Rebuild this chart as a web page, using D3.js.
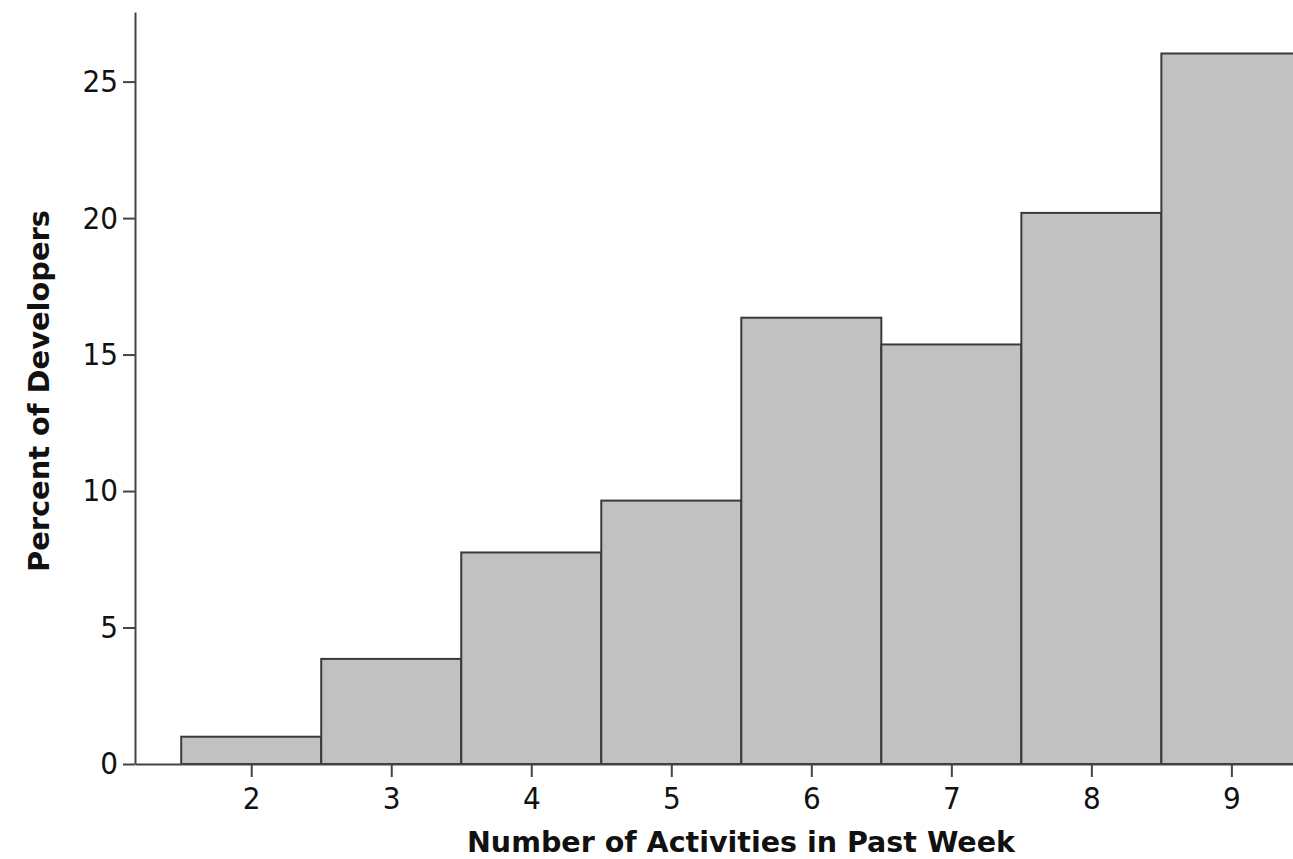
<!DOCTYPE html>
<html>
<head>
<meta charset="utf-8">
<script src="https://cdn.jsdelivr.net/npm/d3@7"></script>
<style>
  body { margin:0; background:#fff; }
  svg text { font-family: "DejaVu Sans Condensed", "DejaVu Sans", sans-serif; fill:#111; }
  svg text.title { font-family: "DejaVu Sans", sans-serif; }
  .axis path, .axis line { stroke:#444; stroke-width:2; }
</style>
</head>
<body>
<div id="chart"></div>
<script>
var activities = [2, 3, 4, 5, 6, 7, 8, 9];
var percents = [1.0, 3.85, 7.75, 9.65, 16.35, 15.37, 20.19, 26.03];
var yTicks = [0, 5, 10, 15, 20, 25];

var W = 1293, H = 859;
var margin = {top:12, right:0, bottom:95, left:135};

var svg = d3.select('#chart').append('svg')
  .attr('width', W)
  .attr('height', H);

// x: one bar per activity count, 140px wide, axis runs off the right edge
var x = d3.scaleLinear()
  .domain([1.17, 9.44])
  .range([margin.left, W - margin.right]);

var y = d3.scaleLinear()
  .domain([0, 27.55])
  .range([H - margin.bottom, margin.top]);

svg.append('g')
  .selectAll('rect')
  .data(activities)
  .enter().append('rect')
  .attr('x', function(d) { return x(d - 0.5); })
  .attr('y', function(d, i) { return y(percents[i]); })
  .attr('width', function(d) { return x(d + 0.5) - x(d - 0.5); })
  .attr('height', function(d, i) { return y(0) - y(percents[i]); })
  .style('fill', '#c1c1c1')
  .style('stroke', '#3a3a3a')
  .style('stroke-width', 2);

var xAxis = svg.append('g')
  .attr('class', 'axis')
  .attr('transform', 'translate(0,' + y(0) + ')')
  .call(d3.axisBottom(x).tickValues(activities).tickSize(13).tickSizeOuter(0).tickPadding(10));

var yAxis = svg.append('g')
  .attr('class', 'axis')
  .attr('transform', 'translate(' + margin.left + ',0)')
  .call(d3.axisLeft(y).tickValues(yTicks).tickSize(12).tickSizeOuter(0).tickPadding(5));

svg.selectAll('.axis text').style('font-size', '31px');

svg.append('text')
  .attr('class', 'title')
  .attr('x', 741)
  .attr('y', 852)
  .attr('text-anchor', 'middle')
  .attr('textLength', 548)
  .attr('lengthAdjust', 'spacingAndGlyphs')
  .style('font-size', '28px')
  .style('font-weight', 'bold')
  .text('Number of Activities in Past Week');

svg.append('text')
  .attr('class', 'title')
  .attr('transform', 'translate(49,391) rotate(-90)')
  .attr('text-anchor', 'middle')
  .attr('textLength', 362)
  .attr('lengthAdjust', 'spacingAndGlyphs')
  .style('font-size', '28px')
  .style('font-weight', 'bold')
  .text('Percent of Developers');
</script>
</body>
</html>
